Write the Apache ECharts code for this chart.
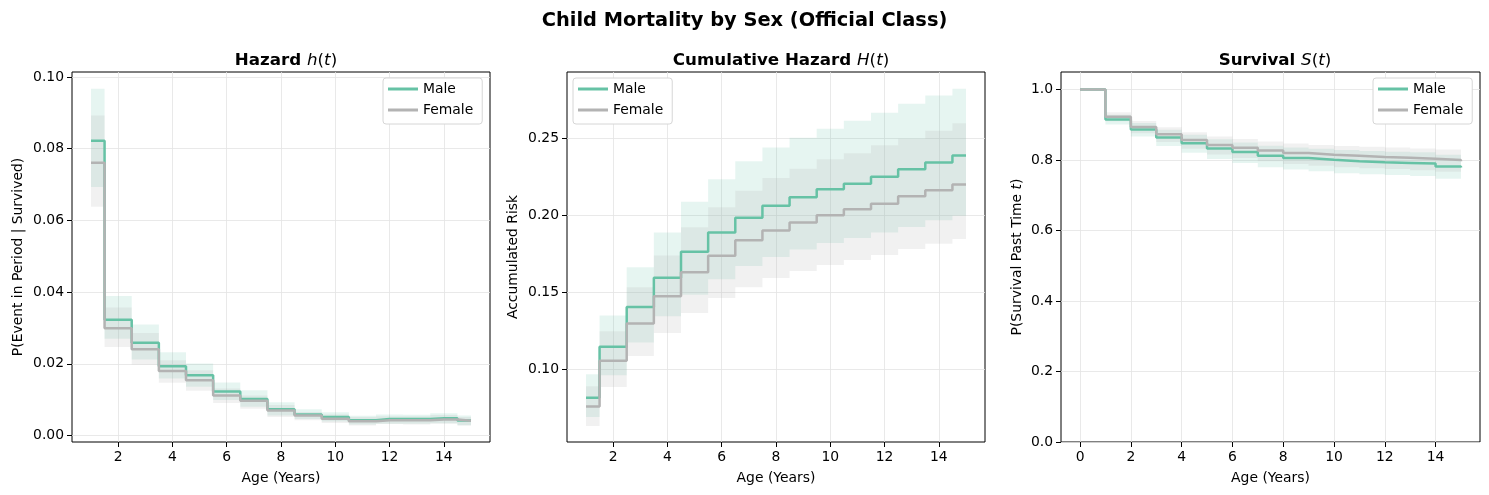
<!DOCTYPE html>
<html>
<head>
<meta charset="utf-8">
<script src="https://cdn.jsdelivr.net/npm/echarts@6/dist/echarts.min.js"></script>
<style>
html,body{margin:0;padding:0;background:#fff;}
#chart{width:1489px;height:495px;}
</style>
</head>
<body>
<div id="chart"></div>
<script>
// ---------- data ----------
const ages = [1,2,3,4,5,6,7,8,9,10,11,12,13,14,15];
const survAges = [0,1,2,3,4,5,6,7,8,9,10,11,12,13,14,15];

const hazardMale     = [0.0822,0.0323,0.0259,0.0193,0.0168,0.0123,0.0102,0.0073,0.0059,0.0052,0.0043,0.0046,0.0046,0.0048,0.0042];
const hazardMaleLo   = [0.0693,0.0270,0.0212,0.0159,0.0136,0.0099,0.0080,0.0056,0.0046,0.0039,0.0031,0.0033,0.0033,0.0034,0.0029];
const hazardMaleHi   = [0.0967,0.0389,0.0310,0.0232,0.0201,0.0148,0.0126,0.0093,0.0073,0.0065,0.0055,0.0059,0.0058,0.0062,0.0056];
const hazardFemale   = [0.0761,0.0299,0.0241,0.0180,0.0154,0.0112,0.0097,0.0070,0.0056,0.0047,0.0040,0.0043,0.0043,0.0045,0.0041];
const hazardFemaleLo = [0.0638,0.0247,0.0198,0.0147,0.0125,0.0091,0.0075,0.0052,0.0043,0.0035,0.0028,0.0032,0.0031,0.0033,0.0028];
const hazardFemaleHi = [0.0893,0.0357,0.0286,0.0210,0.0182,0.0131,0.0112,0.0085,0.0066,0.0059,0.0052,0.0054,0.0054,0.0057,0.0052];

const cumMale     = [0.0818,0.1149,0.1407,0.1597,0.1766,0.1890,0.1987,0.2065,0.2119,0.2171,0.2208,0.2253,0.2301,0.2346,0.2390];
const cumMaleLo   = [0.0693,0.0963,0.1177,0.1346,0.1487,0.1587,0.1673,0.1732,0.1781,0.1822,0.1855,0.1890,0.1926,0.1970,0.2000];
const cumMaleHi   = [0.0970,0.1351,0.1665,0.1890,0.2091,0.2236,0.2353,0.2442,0.2506,0.2565,0.2617,0.2669,0.2727,0.2781,0.2825];
const cumFemale   = [0.0760,0.1058,0.1299,0.1476,0.1632,0.1740,0.1840,0.1903,0.1955,0.2002,0.2041,0.2078,0.2126,0.2165,0.2203];
const cumFemaleLo = [0.0634,0.0887,0.1089,0.1238,0.1368,0.1465,0.1535,0.1595,0.1641,0.1680,0.1712,0.1745,0.1784,0.1818,0.1848];
const cumFemaleHi = [0.0892,0.1249,0.1535,0.1742,0.1924,0.2054,0.2162,0.2245,0.2305,0.2366,0.2405,0.2457,0.2500,0.2552,0.2600];

const survMale     = [1.0,0.915,0.887,0.864,0.848,0.833,0.823,0.812,0.806,0.801,0.797,0.794,0.792,0.790,0.782,0.779];
const survMaleLo   = [1.0,0.901,0.867,0.840,0.821,0.803,0.792,0.780,0.773,0.768,0.763,0.760,0.758,0.755,0.747,0.744];
const survMaleHi   = [1.0,0.929,0.905,0.886,0.872,0.859,0.850,0.841,0.836,0.832,0.829,0.826,0.824,0.822,0.815,0.812];
const survFemale   = [1.0,0.923,0.894,0.873,0.857,0.843,0.835,0.827,0.820,0.815,0.812,0.809,0.807,0.804,0.800,0.797];
const survFemaleLo = [1.0,0.910,0.876,0.851,0.832,0.816,0.806,0.797,0.789,0.784,0.780,0.777,0.775,0.771,0.767,0.764];
const survFemaleHi = [1.0,0.936,0.911,0.893,0.879,0.867,0.860,0.853,0.847,0.843,0.840,0.838,0.836,0.833,0.830,0.827];

const xTicksAge  = [2,4,6,8,10,12,14];
const xTicksSurv = [0,2,4,6,8,10,12,14];
const yTicksHaz  = [0,0.02,0.04,0.06,0.08,0.10];
const yTicksCum  = [0.10,0.15,0.20,0.25];
const yTicksSurv = [0,0.2,0.4,0.6,0.8,1.0];

const seriesNames = ['Male','Female'];
// ---------- styling ----------
const MALE = '#66c2a5', FEMALE = '#b3b3b3';
const MALE_FILL = 'rgba(102,194,165,0.16)', FEMALE_FILL = 'rgba(179,179,179,0.18)';
const FONT = 'DejaVu Sans';
const FS = 13.9;
const grids = [
  {left:72,  top:72, width:418, height:370},
  {left:567, top:72, width:418, height:370},
  {left:1061,top:72, width:419, height:370}
];

function stepPts(xs, ys, mode){
  const pts = [], n = xs.length;
  for (let i=0;i<n;i++){
    let a,b;
    if (mode==='mid'){ a = i===0 ? xs[0] : (xs[i-1]+xs[i])/2; b = i===n-1 ? xs[n-1] : (xs[i]+xs[i+1])/2; }
    else { a = xs[i]; b = i===n-1 ? xs[i] : xs[i+1]; }
    pts.push([a,ys[i]],[b,ys[i]]);
  }
  return pts;
}
function band(idx, xs, lo, hi, mode, fill){
  return {
    type:'custom', xAxisIndex:idx, yAxisIndex:idx, silent:true, clip:true, z:1,
    data:[[xs[0], lo[0]]],
    renderItem:function(params, api){
      const up = stepPts(xs, hi, mode);
      const dn = stepPts(xs, lo, mode).reverse();
      const pts = up.concat(dn).map(p=>api.coord(p));
      return {type:'polygon', shape:{points:pts}, style:{fill:fill, stroke:null}};
    }
  };
}
function line(idx, name, xs, ys, step, color){
  return {
    type:'line', name:name, xAxisIndex:idx, yAxisIndex:idx, step:step,
    data: xs.map((x,i)=>[x, ys[i]]), symbol:'none', showSymbol:false, z:3,
    color:color, itemStyle:{color:color},
    lineStyle:{color:color, width:2.5}, emphasis:{disabled:true}
  };
}
function xAxis(idx, min, max, ticks){
  return {
    type:'value', gridIndex:idx, min:min, max:max,
    name:'Age (Years)', nameLocation:'middle', nameGap:29,
    nameTextStyle:{fontFamily:FONT, fontSize:FS, color:'#000'},
    axisLine:{show:false, onZero:false},
    axisTick:{show:true, inside:false, length:5, customValues:ticks, lineStyle:{color:'#000', width:1}},
    axisLabel:{customValues:ticks, margin:8, fontFamily:FONT, fontSize:FS, color:'#000'},
    splitLine:{show:true, lineStyle:{color:'#e3e3e3', width:0.8}}
  };
}
function yAxis(idx, min, max, ticks, name, gap, fmt, rich){
  const ns = {fontFamily:FONT, fontSize:FS, color:'#000'};
  if (rich) ns.rich = rich;
  return {
    type:'value', gridIndex:idx, min:min, max:max,
    name:name, nameLocation:'middle', nameGap:gap, nameRotate:90, nameTextStyle:ns,
    axisLine:{show:false, onZero:false},
    axisTick:{show:true, inside:false, length:5, customValues:ticks, lineStyle:{color:'#000', width:1}},
    axisLabel:{customValues:ticks, margin:8, fontFamily:FONT, fontSize:FS, color:'#000', formatter:v=>v.toFixed(fmt)},
    splitLine:{show:true, lineStyle:{color:'#e3e3e3', width:0.8}}
  };
}
function legend(left){
  return {
    data:seriesNames, left:left, top:78, orient:'vertical',
    icon:'rect', itemWidth:30, itemHeight:3, itemGap:7, itemTextGap:10,
    padding:[4,9,7,5], backgroundColor:'#fff', borderColor:'#d6d6d6', borderWidth:1, borderRadius:3,
    textStyle:{fontFamily:FONT, fontSize:FS, color:'#000'}, selectedMode:false
  };
}
const titleRich = {
  b:{fontFamily:FONT, fontSize:16.7, fontWeight:'bold', color:'#000'},
  i:{fontFamily:FONT, fontSize:16.7, fontWeight:'normal', fontStyle:'italic', color:'#000'},
  r:{fontFamily:FONT, fontSize:16.7, fontWeight:'normal', color:'#000'}
};
function subTitle(text, cx){
  return {text:text, left:cx, top:47, textAlign:'center', textStyle:{fontWeight:'normal', rich:titleRich}};
}

const option = {
  animation:false,
  backgroundColor:'#fff',
  title:[
    {text:'Child Mortality by Sex (Official Class)', left:'center', top:6,
     textStyle:{fontFamily:FONT, fontSize:19.4, fontWeight:'bold', color:'#000'}},
    subTitle('{b|Hazard }{i|h}{r|(}{i|t}{r|)}', 281),
    subTitle('{b|Cumulative Hazard }{i|H}{r|(}{i|t}{r|)}', 776),
    subTitle('{b|Survival }{i|S}{r|(}{i|t}{r|)}', 1270)
  ],
  legend:[legend(383), legend(573), legend(1373)],
  grid: grids.map(g=>Object.assign({show:true, borderColor:'#000', borderWidth:1, backgroundColor:'transparent'}, g)),
  xAxis:[
    xAxis(0, 0.3, 15.7, xTicksAge),
    xAxis(1, 0.3, 15.7, xTicksAge),
    xAxis(2, -0.75, 15.75, xTicksSurv)
  ],
  yAxis:[
    yAxis(0, -0.0018, 0.1014, yTicksHaz, 'P(Event in Period | Survived)', 47, 2),
    yAxis(1, 0.053, 0.2933, yTicksCum, 'Accumulated Risk', 47, 2),
    yAxis(2, 0, 1.05, yTicksSurv, 'P(Survival Past Time {i|t})', 37, 1,
          {i:{fontFamily:FONT, fontSize:FS, fontStyle:'italic', color:'#000'}})
  ],
  series:[
    band(0, ages, hazardMaleLo, hazardMaleHi, 'mid', MALE_FILL),
    band(0, ages, hazardFemaleLo, hazardFemaleHi, 'mid', FEMALE_FILL),
    line(0, 'Male', ages, hazardMale, 'middle', MALE),
    line(0, 'Female', ages, hazardFemale, 'middle', FEMALE),

    band(1, ages, cumMaleLo, cumMaleHi, 'mid', MALE_FILL),
    band(1, ages, cumFemaleLo, cumFemaleHi, 'mid', FEMALE_FILL),
    line(1, 'Male', ages, cumMale, 'middle', MALE),
    line(1, 'Female', ages, cumFemale, 'middle', FEMALE),

    band(2, survAges, survMaleLo, survMaleHi, 'post', MALE_FILL),
    band(2, survAges, survFemaleLo, survFemaleHi, 'post', FEMALE_FILL),
    line(2, 'Male', survAges, survMale, 'end', MALE),
    line(2, 'Female', survAges, survFemale, 'end', FEMALE)
  ]
};
const chart = echarts.init(document.getElementById('chart'), null, {renderer:'canvas'});
chart.setOption(option);
</script>
</body>
</html>
